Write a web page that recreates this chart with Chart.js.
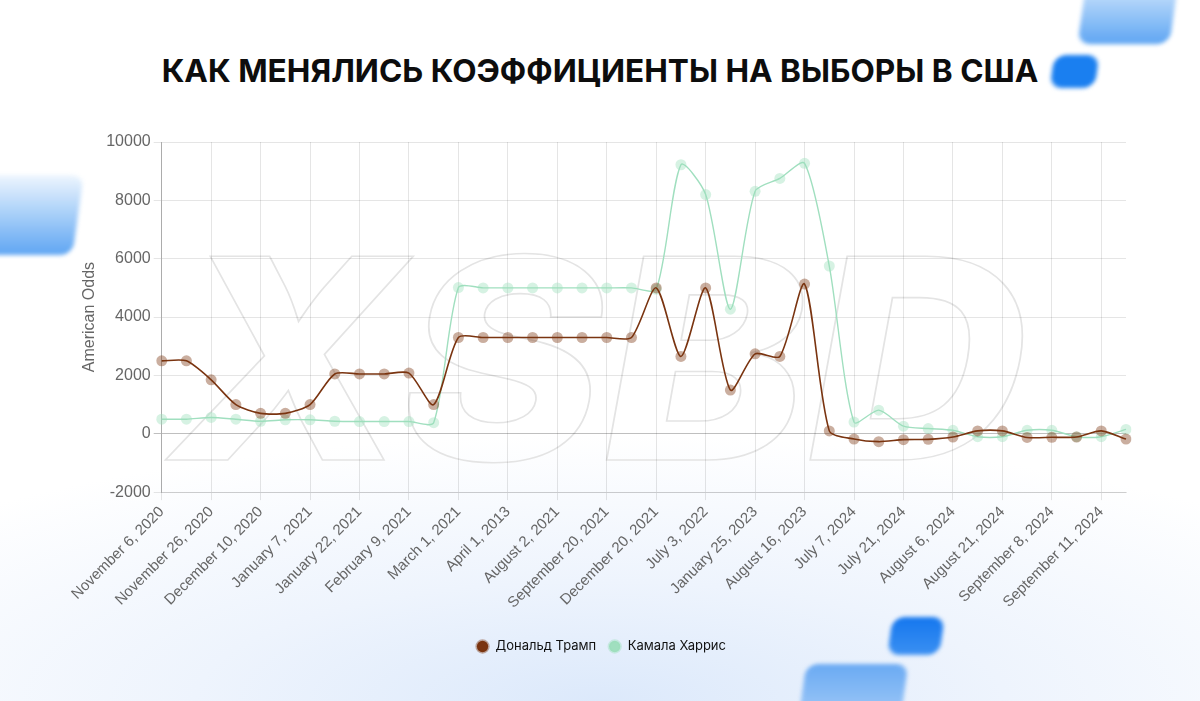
<!DOCTYPE html>
<html>
<head>
<meta charset="utf-8">
<script src="https://cdn.jsdelivr.net/npm/chart.js@4.4.1/dist/chart.umd.min.js"></script>
<style>
  html, body { margin: 0; padding: 0; }
  body {
    width: 1200px; height: 701px; overflow: hidden; position: relative;
    background: radial-gradient(ellipse 75% 38% at 50% 100%, #dce9fb 0%, #eef4fd 45%, #ffffff 100%);
    font-family: Inter, "Noto Sans", sans-serif;
  }
  .title {
    position: absolute; left: 0; top: 51px; width: 1200px; text-align: center;
    font-size: 31.6px; font-weight: 700; color: #0d0d0d; letter-spacing: 0;
  }
  .blob { position: absolute; border-radius: 12px; transform: skewX(-8deg); filter: blur(2px); }
  #watermark { position: absolute; left: 0; top: 0; }
  #wrap { position: absolute; left: 0; top: 0; width: 1200px; height: 701px; }
</style>
</head>
<body>
<div class="blob" style="left:1082px; top:-20px; width:92px; height:64px; background:linear-gradient(#d6e9fd,#5fa6f3);"></div>
<div class="blob" style="left:1052px; top:55px; width:45px; height:33px; background:#1a7ff0;"></div>
<div class="blob" style="left:-30px; top:175px; width:108px; height:80px; background:linear-gradient(#eef6fe,#5fa6f3);"></div>
<div class="blob" style="left:890px; top:617px; width:52px; height:38px; background:linear-gradient(#1577ee,#3b90f2);"></div>
<div class="blob" style="left:802px; top:664px; width:102px; height:60px; background:linear-gradient(#6aaaf3,#a7cdf8);"></div>

<svg id="watermark" width="1200" height="701">
  <text x="172" y="460" font-family="Inter, sans-serif" font-weight="800" font-style="italic"
        font-size="280" textLength="856" lengthAdjust="spacingAndGlyphs"
        fill="none" stroke="#e4e4e4" stroke-width="1.6">XSBD</text>
</svg>

<div class="title">КАК МЕНЯЛИСЬ КОЭФФИЦИЕНТЫ НА ВЫБОРЫ В США</div>

<div id="wrap"><canvas id="chart-odds" width="1200" height="701"></canvas></div>

<script>
'use strict';

// Data

var dates = [
	'November 6, 2020', 'November 16, 2020', 'November 26, 2020', 'December 3, 2020',
	'December 10, 2020', 'December 24, 2020', 'January 7, 2021', 'January 15, 2021',
	'January 22, 2021', 'February 1, 2021', 'February 9, 2021', 'February 19, 2021',
	'March 1, 2021', 'March 15, 2021', 'April 1, 2013', 'June 1, 2021',
	'August 2, 2021', 'September 1, 2021', 'September 20, 2021', 'November 1, 2021',
	'December 20, 2021', 'March 1, 2022', 'July 3, 2022', 'October 10, 2022',
	'January 25, 2023', 'May 1, 2023', 'August 16, 2023', 'March 1, 2024',
	'July 7, 2024', 'July 14, 2024', 'July 21, 2024', 'July 28, 2024',
	'August 6, 2024', 'August 14, 2024', 'August 21, 2024', 'August 28, 2024',
	'September 8, 2024', 'September 10, 2024', 'September 11, 2024', 'September 12, 2024'
];

var trumpOdds = [
	2500, 2500, 1850, 1000, 700, 700, 1000, 2050, 2050, 2050,
	2080, 1000, 3300, 3300, 3300, 3300, 3300, 3300, 3300, 3300,
	5000, 2650, 5000, 1500, 2740, 2650, 5130, 100, -180, -270,
	-200, -190, -110, 100, 100, -125, -120, -110, 100, -180
];

var harrisOdds = [
	500, 500, 560, 500, 430, 480, 480, 430, 420, 420,
	420, 380, 5010, 5000, 5000, 5000, 5000, 5000, 5000, 5000,
	4950, 9220, 8200, 4270, 8310, 8750, 9270, 5750, 400, 810,
	260, 180, 120, -100, -100, 120, 120, -100, -100, 150
];

var yTicks = { min: -2000, max: 10000, step: 2000 };

var names = ['Дональд Трамп', 'Камала Харрис'];

// Chart

var OddsChart = (function() {

	var canvas = document.getElementById('chart-odds');

	var brown = '#7a3410';
	var brownSoft = 'rgba(122, 52, 16, 0.4)';
	var green = '#a0dfbf';
	var greenSoft = 'rgba(152, 222, 186, 0.4)';
	var axisFont = 'Liberation Sans, Arial, sans-serif';

	function init() {
		return new Chart(canvas, {
			type: 'line',
			data: {
				labels: dates,
				datasets: [{
					label: names[0],
					data: trumpOdds,
					borderColor: brown,
					backgroundColor: brown,
					borderWidth: 1.6,
					pointRadius: 5.5,
					pointBackgroundColor: brownSoft,
					pointBorderColor: 'rgba(0,0,0,0)',
					pointBorderWidth: 0,
					tension: 0.25
				}, {
					label: names[1],
					data: harrisOdds,
					borderColor: green,
					backgroundColor: green,
					borderWidth: 1.4,
					pointRadius: 5.5,
					pointBackgroundColor: greenSoft,
					pointBorderColor: 'rgba(0,0,0,0)',
					pointBorderWidth: 0,
					tension: 0.25
				}]
			},
			options: {
				responsive: false,
				animation: false,
				devicePixelRatio: 1,
				layout: {
					padding: { top: 142, left: 76, right: 74, bottom: 38 }
				},
				scales: {
					x: {
						grid: { color: 'rgba(0,0,0,0.1)' },
						border: { color: 'rgba(0,0,0,0.1)' },
						ticks: {
							color: '#666',
							font: { family: axisFont, size: 15 },
							maxRotation: 45,
							minRotation: 45,
							autoSkip: true,
							maxTicksLimit: 20
						}
					},
					y: {
						min: yTicks.min,
						max: yTicks.max,
						grid: {
							color: function(ctx) {
								return ctx.tick && ctx.tick.value === 0 ? 'rgba(0,0,0,0.25)' : 'rgba(0,0,0,0.1)';
							}
						},
						border: { color: 'rgba(0,0,0,0.25)' },
						ticks: {
							stepSize: yTicks.step,
							color: '#666',
							font: { family: axisFont, size: 16 },
							callback: function(v) { return String(v); }
						},
						title: {
							display: true,
							text: 'American Odds',
							color: '#666',
							font: { family: axisFont, size: 16 }
						}
					}
				},
				plugins: {
					tooltip: { enabled: false },
					legend: {
						position: 'bottom',
						title: {
							display: true,
							text: ' ',
							font: { size: 10 },
							padding: { top: 0, bottom: 1 }
						},
						labels: {
							usePointStyle: true,
							pointStyle: 'circle',
							boxHeight: 8,
							color: '#111',
							font: { family: 'Inter, sans-serif', size: 13 },
							padding: 12,
							generateLabels: function(c) {
								var items = Chart.defaults.plugins.legend.labels.generateLabels(c);
								var soft = [brownSoft, greenSoft];
								var solid = [brown, green];
								items.forEach(function(it, i) {
									it.fillStyle = solid[i];
									it.strokeStyle = soft[i];
									it.lineWidth = 3;
									it.pointStyle = 'circle';
								});
								return items;
							}
						}
					}
				}
			}
		});
	}

	return init();

})();
</script>
</body>
</html>
